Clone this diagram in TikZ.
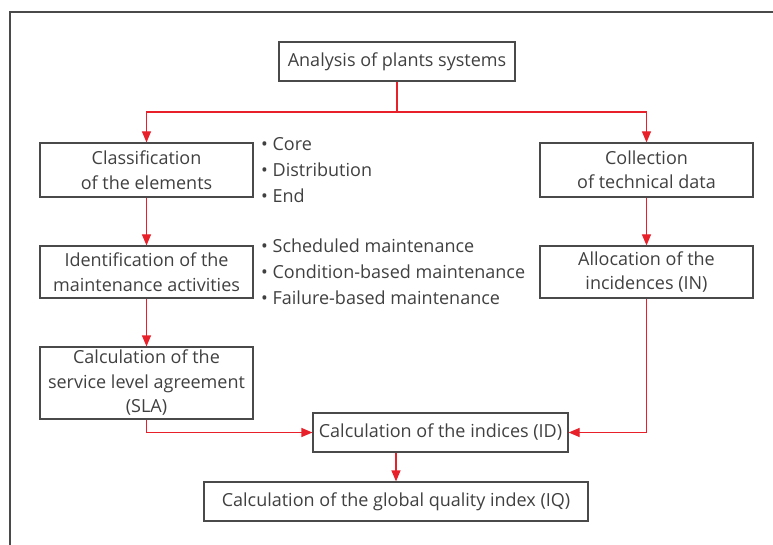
\documentclass[tikz,border=0pt]{standalone}
\usepackage{fontspec}
\setmainfont{Open Sans}
\usetikzlibrary{arrows.meta}
\definecolor{txt}{HTML}{404040}
\definecolor{frm}{HTML}{4A4A4A}
\definecolor{arr}{HTML}{E8202A}
\begin{document}
\begin{tikzpicture}[x=1pt,y=-1pt,
  boxn/.style={draw=frm,line width=1.2pt,inner sep=0pt,align=center,text=txt,
    font=\fontsize{18}{24.5}\selectfont},
  bul/.style={anchor=west,inner sep=0pt,text=txt,font=\fontsize{18}{24}\selectfont},
  conn/.style={draw=arr,line width=1.2pt,-{Triangle[length=11pt,width=9pt]}},
  plain/.style={draw=arr,line width=1.2pt}]
\useasboundingbox (0,0) rectangle (773,545);
\draw[frm,line width=1.3pt] (10,560) -- (10,12) -- (790,12);
\node[boxn,minimum width=236pt,minimum height=39pt] (top) at (397,61.5) {Analysis of plants systems};
\node[boxn,minimum width=213pt,minimum height=54pt] (cls) at (146.5,170) {Classification\\of the elements};
\node[boxn,minimum width=213pt,minimum height=52pt] (idm) at (146.5,272) {Identification of the\\maintenance activities};
\node[boxn,minimum width=213pt,minimum height=72pt] (sla) at (146.5,383) {Calculation of the\\service level agreement\\(SLA)};
\node[boxn,minimum width=213pt,minimum height=54pt] (col) at (646.5,170) {Collection\\of technical data};
\node[boxn,minimum width=213pt,minimum height=52pt] (alo) at (646.5,272) {Allocation of the\\incidences (IN)};
\node[boxn,minimum width=255pt,minimum height=39pt] (ind) at (440.5,432.5) {Calculation of the indices (ID)};
\node[boxn,minimum width=384pt,minimum height=39pt] (iq) at (396,501.5) {Calculation of the global quality index (IQ)};
\node[bul] (b1) at (261,144) {• Core};
\node[bul] (b2) at (261,170) {• Distribution};
\node[bul] (b3) at (261,196) {• End};
\node[bul] (b4) at (261,246) {• Scheduled maintenance};
\node[bul] (b5) at (261,272) {• Condition-based maintenance};
\node[bul] (b6) at (261,298) {• Failure-based maintenance};
\coordinate (split) at (397,112);
\draw[plain] (top.south) -- (split);
\draw[conn] (split) -| (cls.north);
\draw[conn] (split) -| (col.north);
\draw[conn] (cls.south) -- (idm.north);
\draw[conn] (idm.south) -- (sla.north);
\draw[conn] (col.south) -- (alo.north);
\draw[conn] (sla.south) |- (ind.west);
\draw[conn] (alo.south) |- (ind.east);
\draw[conn] (iq.north |- ind.south) -- (iq.north);
\end{tikzpicture}
\end{document}
